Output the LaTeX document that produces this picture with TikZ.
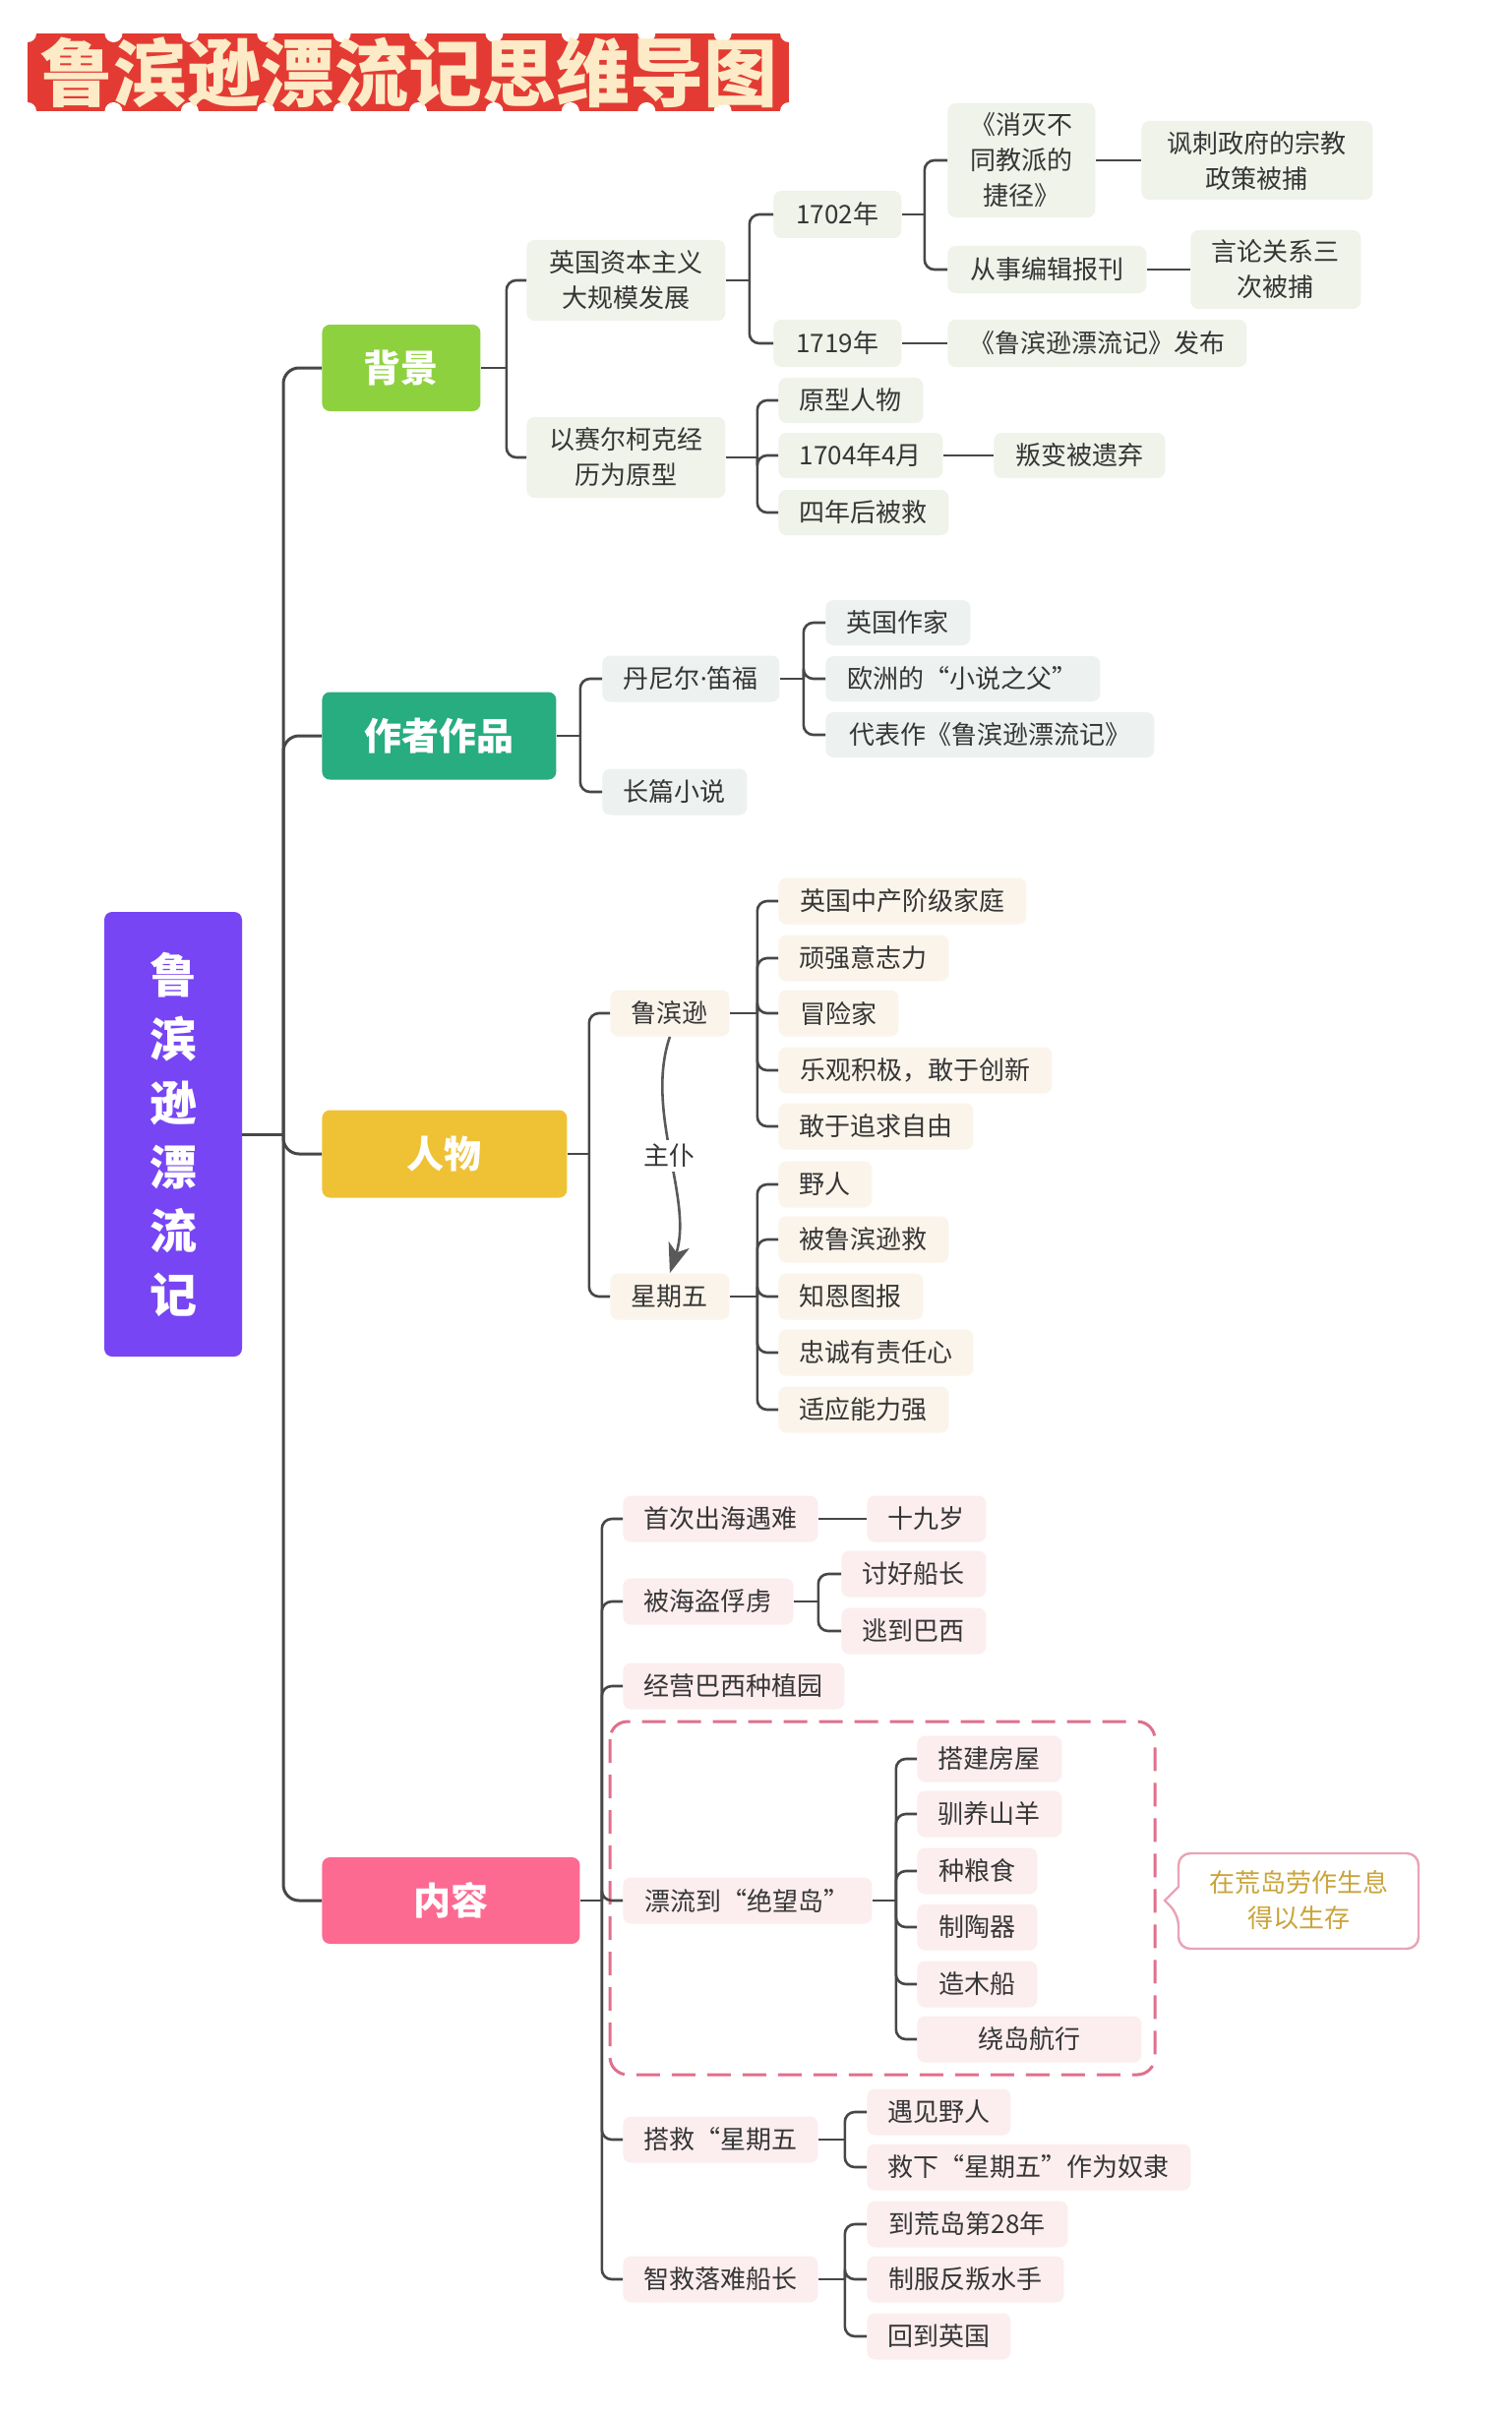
\documentclass[tikz,border=0pt]{standalone}
\usepackage{fontspec}
\setmainfont{Noto Sans CJK SC}
\newfontfamily\dotfont{Noto Sans}
\usetikzlibrary{arrows.meta,calc}
\definecolor{bgG}{HTML}{EFF3E9}
\definecolor{bgA}{HTML}{EDF1EF}
\definecolor{bgP}{HTML}{FBF4EA}
\definecolor{bgC}{HTML}{FCEDEF}
\definecolor{catB}{HTML}{8ED13F}
\definecolor{catA}{HTML}{27AD7F}
\definecolor{catP}{HTML}{EFC235}
\definecolor{catC}{HTML}{FC6A92}
\definecolor{rootc}{HTML}{7745F4}
\definecolor{lc}{HTML}{474747}
\definecolor{txt}{HTML}{363636}
\definecolor{dashc}{HTML}{E0708C}
\definecolor{callc}{HTML}{E8A4B6}
\definecolor{callt}{HTML}{C9A43A}
\definecolor{titc}{HTML}{FCEBC6}
\definecolor{banner}{HTML}{E33B33}
\tikzset{
  box/.style={rounded corners=4pt, inner sep=0pt, anchor=west, align=center, text=txt,
    font=\fontsize{13pt}{18pt}\selectfont, minimum height=23.5pt},
  W/.style={minimum width=#1*0.5pt},
  H/.style={minimum height=#1*0.5pt},
  gb/.style={box, fill=bgG},
  ab/.style={box, fill=bgA},
  pb/.style={box, fill=bgP},
  cb/.style={box, fill=bgC},
  cat/.style={rounded corners=4pt, inner sep=0pt, anchor=west, text=white,
    font=\fontsize{19pt}{22pt}\selectfont\bfseries, minimum height=44pt},
  conn/.style={draw=lc, line width=1.3pt},
  spine/.style={draw=lc, line width=1.5pt, rounded corners=8pt},
}
\newcommand\fork[3]{%
  \coordinate (#1-j) at ($(#1.east)+(#2,0)$);
  \draw[conn] (#1.east) -- (#1-j);
  \foreach \k in {#3} {\draw[conn, rounded corners=5pt] (#1-j) |- (\k.west);}%
}
\begin{document}
\begin{tikzpicture}[x=0.5pt,y=-0.5pt]
\useasboundingbox (0,0) rectangle (1536,2456);
\fill[white] (0,0) rectangle (1536,2456);

% ---- title banner
\fill[banner] (28,34) rectangle (802,113);
\foreach \f in {0.113,0.213,0.313,0.413,0.513,0.613,0.713,0.813,0.913} {
  \fill[white] ({28+774*\f},34) circle (9);
  \fill[white] ({28+774*\f},113) circle (9);
}
\foreach \p in {(28,34),(802,34),(28,113),(802,113)} \fill[white] \p circle (9);
\node[font=\fontsize{37.5pt}{40pt}\selectfont\bfseries, text=titc, inner sep=0pt] (title) at (415,74) {鲁滨逊漂流记思维导图};

% ---- root
\node[fill=rootc, rounded corners=4pt, minimum width=70pt, minimum height=226pt, inner sep=0pt,
  text=white, align=center, font=\fontsize{24pt}{32.5pt}\selectfont\bfseries] (root) at (176,1153)
  {鲁\\滨\\逊\\漂\\流\\记};

% ---- categories
\node[cat, fill=catB, W=161, H=88] (cB) at (327,374) {背景};
\node[cat, fill=catA, W=238, H=89] (cA) at (327,748) {作者作品};
\node[cat, fill=catP, W=249, H=89] (cP) at (327,1173) {人物};
\node[cat, fill=catC, W=262, H=88] (cC) at (327,1932) {内容};

\coordinate (sp) at (288,1153);
\draw[conn, line width=1.5pt] (root.east) -- (sp);
\foreach \c in {cB,cA,cP,cC} \draw[spine] (sp) |- (\c.west);

% ---- background branch
\node[gb, W=202, H=82] (b1) at (535,285) {英国资本主义\\大规模发展};
\node[gb, W=202, H=82] (b2) at (535,465) {以赛尔柯克经\\历为原型};
\node[gb, W=130, H=48] (b11) at (786,218) {1702年};
\node[gb, W=130, H=48] (b12) at (786,349) {1719年};
\node[gb, W=150, H=116] (b111) at (963,163) {《消灭不\\同教派的\\捷径》};
\node[gb, W=202, H=48] (b112) at (963,274) {从事编辑报刊};
\node[gb, W=235, H=80] (b1111) at (1160,163) {讽刺政府的宗教\\政策被捕};
\node[gb, W=173, H=80] (b1121) at (1210,274) {言论关系三\\次被捕};
\node[gb, W=304, H=48] (b121) at (963,349) {《鲁滨逊漂流记》发布};
\node[gb, W=147, H=46] (b21) at (791,407) {原型人物};
\node[gb, W=167, H=46] (b22) at (791,463) {1704年4月};
\node[gb, W=173, H=46] (b23) at (791,521) {四年后被救};
\node[gb, W=174, H=46] (b221) at (1010,463) {叛变被遗弃};

\fork{cB}{26}{b1,b2}
\fork{b1}{24}{b11,b12}
\fork{b11}{23}{b111,b112}
\draw[conn] (b111.east) -- (b1111.west);
\draw[conn] (b112.east) -- (b1121.west);
\draw[conn] (b12.east) -- (b121.west);
\fork{b2}{32}{b21,b22,b23}
\draw[conn] (b22.east) -- (b221.west);

% ---- author branch
\node[ab, W=180, H=47] (a1) at (612,690) {丹尼尔{\dotfont ·}笛福};
\node[ab, W=147, H=47] (a2) at (612,805) {长篇小说};
\node[ab, W=147, H=46] (a11) at (839,633) {英国作家};
\node[ab, W=279, H=46] (a12) at (839,690) {欧洲的“小说之父”};
\node[ab, W=334, H=46] (a13) at (839,747) {代表作《鲁滨逊漂流记》};
\fork{cA}{24}{a1,a2}
\fork{a1}{24}{a11,a12,a13}

% ---- people branch
\node[pb, W=121, H=47] (p1) at (620,1030) {鲁滨逊};
\node[pb, W=121, H=47] (p2) at (620,1318) {星期五};
\node[pb, W=252] (p11) at (791,916) {英国中产阶级家庭};
\node[pb, W=173] (p12) at (791,974) {顽强意志力};
\node[pb, W=122] (p13) at (791,1030) {冒险家};
\node[pb, W=278] (p14) at (791,1088) {乐观积极，敢于创新};
\node[pb, W=198] (p15) at (791,1145) {敢于追求自由};
\node[pb, W=95] (p21) at (791,1204) {野人};
\node[pb, W=173] (p22) at (791,1260) {被鲁滨逊救};
\node[pb, W=147] (p23) at (791,1318) {知恩图报};
\node[pb, W=198] (p24) at (791,1375) {忠诚有责任心};
\node[pb, W=173] (p25) at (791,1433) {适应能力强};
\fork{cP}{22}{p1,p2}
\fork{p1}{28}{p11,p12,p13,p14,p15}
\fork{p2}{28}{p21,p22,p23,p24,p25}
\draw[draw=lc!90, line width=1.3pt, -{Stealth[length=15pt,width=11pt,inset=4pt]}]
  (p1.south) .. controls (655,1130) and (705,1220) .. (p2.north)
  node[pos=0.5, fill=white, inner sep=2pt, text=txt, font=\fontsize{13pt}{15pt}\selectfont] (zp) {主仆};

% ---- content branch
\draw[draw=dashc, line width=1.5pt, dash pattern=on 12pt off 6pt, rounded corners=9pt]
  (620,1750) rectangle (1174,2109);
\node[cb, W=198] (c1) at (633,1544) {首次出海遇难};
\node[cb, W=121] (c11) at (881,1544) {十九岁};
\node[cb, W=173] (c2) at (633,1628) {被海盗俘虏};
\node[cb, W=147] (c21) at (855,1600) {讨好船长};
\node[cb, W=147] (c22) at (855,1658) {逃到巴西};
\node[cb, W=225] (c3) at (633,1714) {经营巴西种植园};
\node[cb, W=253] (c4) at (633,1932) {漂流到“绝望岛”};
\node[cb, W=147] (c41) at (932,1788) {搭建房屋};
\node[cb, W=147] (c42) at (932,1844) {驯养山羊};
\node[cb, W=122] (c43) at (932,1902) {种粮食};
\node[cb, W=122] (c44) at (932,1959) {制陶器};
\node[cb, W=122] (c45) at (932,2017) {造木船};
\node[cb, W=228] (c46) at (932,2073) {绕岛航行};
\node[cb, W=198] (c5) at (633,2175) {搭救“星期五};
\node[cb, W=146] (c51) at (881,2147) {遇见野人};
\node[cb, W=329] (c52) at (881,2203) {救下“星期五”作为奴隶};
\node[cb, W=198] (c6) at (633,2317) {智救落难船长};
\node[cb, W=204] (c61) at (881,2261) {到荒岛第28年};
\node[cb, W=200] (c62) at (881,2317) {制服反叛水手};
\node[cb, W=146] (c63) at (881,2375) {回到英国};
\fork{cC}{22}{c1,c2,c3,c4,c5,c6}
\draw[conn] (c1.east) -- (c11.west);
\fork{c2}{25}{c21,c22}
\fork{c4}{24}{c41,c42,c43,c44,c45,c46}
\fork{c5}{27}{c51,c52}
\fork{c6}{27}{c61,c62,c63}

% ---- callout
\draw[draw=callc, line width=1.2pt, fill=white, rounded corners=6pt]
  (1198,1884) -- (1442,1884) -- (1442,1981) -- (1198,1981) -- (1198,1946)
  [sharp corners] -- (1184,1932) -- (1198,1918) [rounded corners=6pt] -- cycle;
\node[text=callt, align=center, font=\fontsize{13pt}{18pt}\selectfont] (call) at (1320,1932)
  {在荒岛劳作生息\\得以生存};
\end{tikzpicture}
\end{document}
